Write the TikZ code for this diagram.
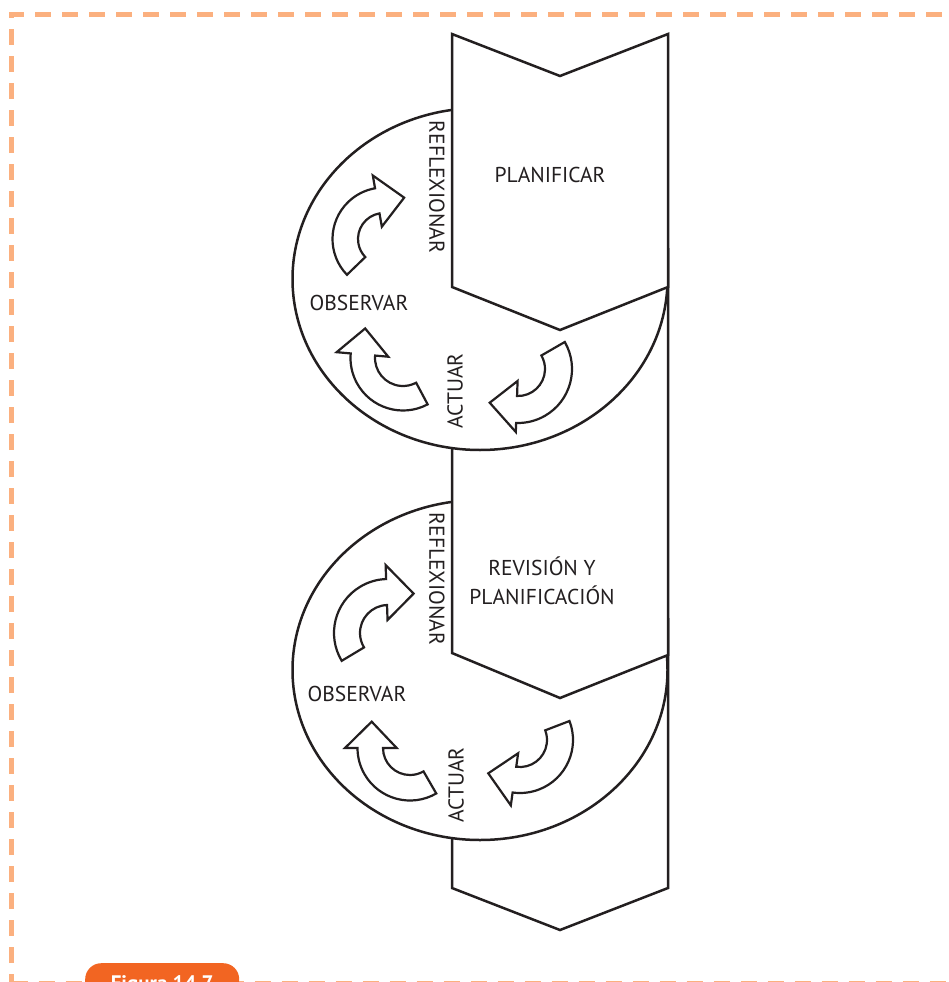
\documentclass[tikz,border=0pt]{standalone}
\usepackage{fontspec}
\setmainfont{PT Sans}
\definecolor{framec}{HTML}{FBB07F}
\definecolor{tabc}{HTML}{F26522}
\definecolor{inkc}{HTML}{231F20}
\tikzset{
 shapebox/.style={draw=inkc,line width=2.5pt,fill=white,line join=miter},
 arrowshape/.style={draw=inkc,line width=2.2pt,fill=white,line join=miter},
 lbl/.style={font=\fontsize{21.5}{26}\selectfont,text=inkc,inner sep=0pt},
 framel/.style={draw=framec,line width=5pt,dash pattern=on 16pt off 11pt},
}
% #1 centre, #2 inner r, #3 outer r, #4 tail angle, #5 base angle,
% #6 inner barb r, #7 outer barb r, #8 tip angle, #9 tip r
\newcommand{\cycarrow}[9]{%
 \draw[arrowshape,shift={#1}] (#4:#3) arc[start angle=#4,end angle=#5,radius=#3]
   -- (#5:#7) -- (#8:#9) -- (#5:#6) -- (#5:#2)
   arc[start angle=#5,end angle=#4,radius=#2] -- cycle;}
\begin{document}
\begin{tikzpicture}[x=1pt,y=-1pt]
\useasboundingbox (0,0) rectangle (948,982);
\clip (0,0) rectangle (948,982);
% frame
\draw[framel] (11.5,990) -- (11.5,14.5) -- (960,14.5);
\draw[framel] (11.5,983.5) -- (960,983.5);
\node[fill=tabc,rounded corners=16pt,minimum width=154pt,minimum height=44pt,
  text=white,font=\bfseries\fontsize{21}{25}\selectfont,anchor=north west] (tab) at (85,963) {Figura 14.7};
% column pieces, back to front
\draw[shapebox] (452,620) -- (560,662) -- (668,620) -- (668,888) -- (560,930) -- (452,888) -- cycle;
\draw[shapebox] (480,670) ellipse[x radius=187.5,y radius=170];
\draw[shapebox] (452,250) -- (560,292) -- (668,250) -- (668,655) -- (560,698) -- (452,653) -- cycle;
\draw[shapebox] (480,279) ellipse[x radius=187.5,y radius=171];
\draw[shapebox] (452,34) -- (560,76) -- (668,34) -- (668,287) -- (560,330) -- (452,287) -- cycle;
\draw[draw=inkc,line width=2.5pt] (668,40) -- (668,880);
% arrows, top cycle
\cycarrow{(384,239)}{26}{51.5}{-224}{-100}{12.5}{64.5}{-64}{46}
\cycarrow{(403,358)}{28}{52.5}{62}{185}{14.8}{66.6}{218}{48}
\cycarrow{(518,369)}{27}{54}{-30}{92}{12}{63}{130}{44}
% arrows, bottom cycle
\cycarrow{(388,633)}{28}{54}{-211}{-92}{13}{68}{-57}{47}
\cycarrow{(410,748)}{27}{52.5}{60}{180}{13.3}{65}{214.5}{46.5}
\cycarrow{(520,740)}{27}{53}{-21}{98}{13.4}{66}{133.6}{46}
% labels
\node[lbl] (plan) at (550,175) {PLANIFICAR};
\node[lbl,rotate=-90] (refl1) at (437,187) {REFLEXIONAR};
\node[lbl] (obs1) at (359,303) {OBSERVAR};
\node[lbl,rotate=90] (act1) at (455,391) {ACTUAR};
\node[lbl,align=center,font=\fontsize{21.5}{29}\selectfont] (rev) at (542,581) {REVISIÓN Y\\PLANIFICACIÓN};
\node[lbl,rotate=-90] (refl2) at (437,579) {REFLEXIONAR};
\node[lbl] (obs2) at (357,694) {OBSERVAR};
\node[lbl,rotate=90] (act2) at (456,785) {ACTUAR};
\end{tikzpicture}
\end{document}
